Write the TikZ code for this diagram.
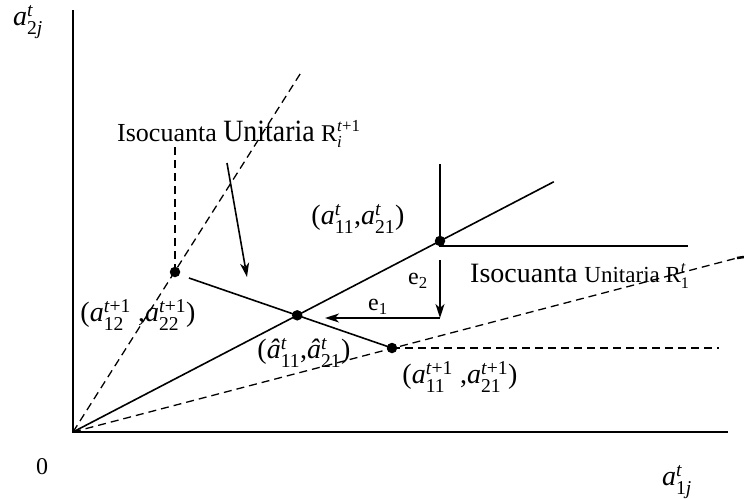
\documentclass[tikz,border=0pt]{standalone}
\usepackage{amsmath}
\usepackage{graphicx}
\usepackage{fontspec}
\setmainfont{Liberation Serif}
\usetikzlibrary{arrows.meta,calc,intersections}
\newcommand\sx[1]{\text{#1}}
\newcommand\va[3]{\textit{#1}$^{\sx{#2}}_{\sx{#3}}$}
\tikzset{
  axisline/.style={line width=2pt},
  solidline/.style={line width=1.6pt},
  dashline/.style={line width=1.3pt, dash pattern=on 8pt off 5pt},
  dotnode/.style={circle, fill=black, inner sep=0pt, minimum size=10.5pt},
  arr/.style={line width=1.6pt, -{Stealth[length=14pt,width=9pt,inset=4pt]}},
  lbl/.style={inner sep=0pt, font=\fontsize{28}{30}\selectfont},
  albl/.style={inner sep=0pt, font=\fontsize{28}{30}\selectfont},
  elbl/.style={inner sep=0pt, font=\fontsize{24}{26}\selectfont},
}
\begin{document}
\begin{tikzpicture}[x=1pt,y=-1pt]
\useasboundingbox (0,0) rectangle (744,498);
% key points
\coordinate (O) at (73,432);
\coordinate (Ytop) at (73,10);
\coordinate (Xend) at (728,432);
\coordinate (P1) at (302,71);
\coordinate (D) at (175,272);
\coordinate (Dtop) at (175,146);
\coordinate (A) at (440,241);
\coordinate (Rend) at ($(O)!1.31!(A)$);
\coordinate (K) at (440,246);
\coordinate (Ktop) at (440,164);
\coordinate (Kright) at (688,246);
\coordinate (S) at (189,278);
\coordinate (C) at (392,348);
\coordinate (E2) at (737,258);
\coordinate (E2b) at (744,257);
\coordinate (Cright) at (719,348);
\coordinate (Ea) at (440,260);
\coordinate (Eb) at (440,318);
\coordinate (Ec) at (325,318);
\coordinate (Ls) at (227,163);
\coordinate (Lt) at (247,277);
% axes
\draw[axisline] (Ytop) -- (O) -- (Xend);
% dashed rays
\draw[dashline] (O) -- (P1);
\draw[dashline] (D) -- (Dtop);
\draw[dashline] (O) -- (E2);
\draw[line width=2.5pt] (E2) -- (E2b);
\draw[dashline] (C) -- (Cright);
% solid ray
\draw[solidline, name path=ray] (O) -- (Rend);
% isoquant t
\draw[solidline] (Ktop) -- (K) -- (Kright);
% isoquant t+1
\draw[solidline, name path=iso] (S) -- (C);
\path[name intersections={of=ray and iso, by=B}];
% arrows
\draw[arr] (Ea) -- (Eb);
\draw[arr] (Eb) -- (Ec);
\draw[arr] (Ls) -- (Lt);
% dots
\node[dotnode] (dA) at (A) {};
\node[dotnode] (dB) at (B) {};
\node[dotnode] (dC) at (C) {};
\node[dotnode] (dD) at (D) {};
% labels
\node[albl] (ly) at (28,22) {\va{a}{\textit{t}}{2\textit{j}}};
\node[elbl] (l0) at (42,467) {0};
\node[albl] (lx) at (677,482) {\va{a}{\textit{t}}{1\textit{j}}};
\node[inner sep=0pt, anchor=base west] (lRi) at (117,141)
  {\fontsize{26}{28}\selectfont Isocuanta \scalebox{0.9}[1]{\fontsize{31}{33}\selectfont Unitaria}
   \fontsize{24}{26}\selectfont R$^{\sx{\textit{t}+1}}_{\sx{\textit{i}}}$};
\node[inner sep=0pt, anchor=base west] (lRt) at (470,282)
  {\fontsize{28}{30}\selectfont Isocuanta \fontsize{23}{25}\selectfont Unitaria R$^{\sx{\textit{t}}}_{\sx{1}}$};
\node[lbl] (lA) at (358,219) {(\va{a}{\textit{t}}{11},\va{a}{\textit{t}}{21})};
\node[elbl] (le2) at (418,281) {e$_{\sx{2}}$};
\node[elbl] (le1) at (378,307) {e$_{\sx{1}}$};
\node[lbl] (lD) at (138,315) {(\va{a}{\textit{t}+1}{12} ,\va{a}{\textit{t}+1}{22})};
\node[lbl] (lB) at (304,353) {(\va{\^a}{\textit{t}}{11},\va{\^a}{\textit{t}}{21})};
\node[lbl] (lC) at (460,377) {(\va{a}{\textit{t}+1}{11} ,\va{a}{\textit{t}+1}{21})};
\end{tikzpicture}
\end{document}
